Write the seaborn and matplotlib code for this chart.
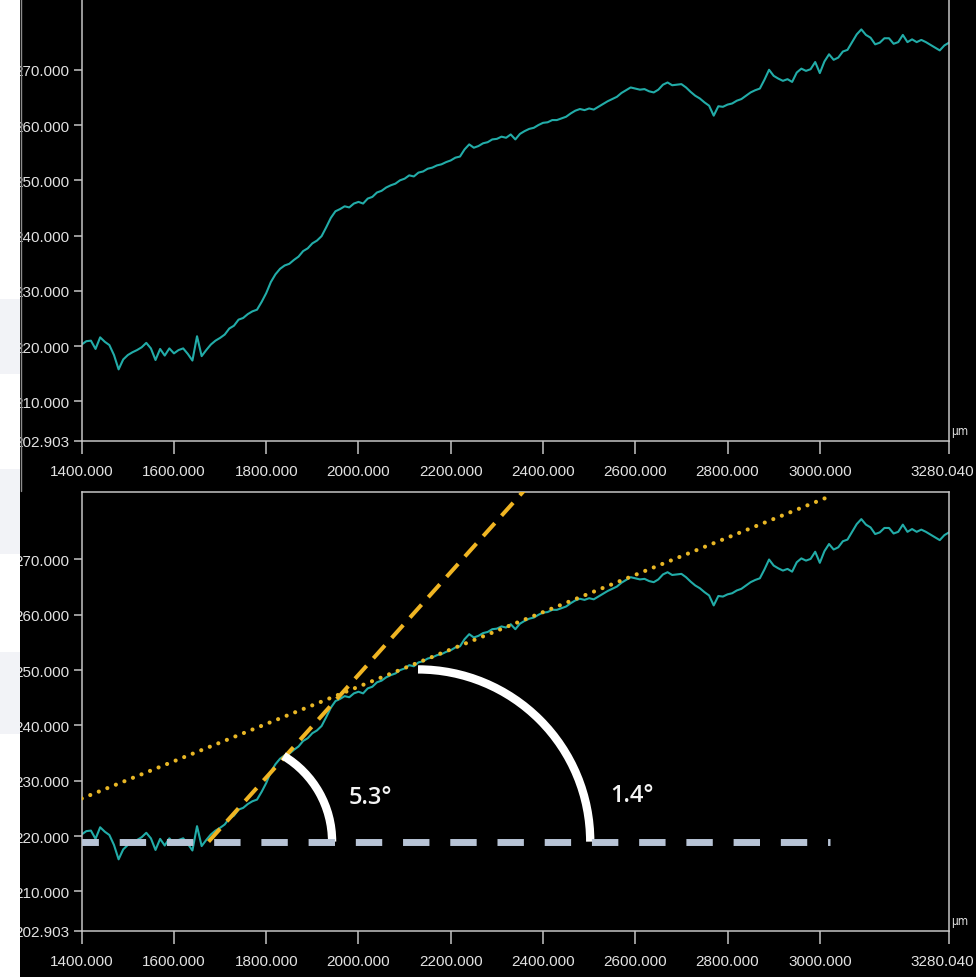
import numpy as np
import pandas as pd
import matplotlib
matplotlib.use("Agg")
import matplotlib.pyplot as plt
import matplotlib.transforms as mtransforms
from matplotlib.patches import Arc, Rectangle
from matplotlib.lines import Line2D
import seaborn as sns

# ---- surface profile (position in µm, height) ----
position = np.arange(1400, 3281, 10)
height = [
    220.3, 220.9, 221.0, 219.5, 221.6, 220.8, 220.2, 218.4, 215.8, 217.6,  # 1400
    218.4, 218.9, 219.3, 219.8, 220.6, 219.6, 217.5, 219.5, 218.3, 219.6,  # 1500
    218.7, 219.3, 219.6, 218.6, 217.4, 221.8, 218.2, 219.3, 220.3, 221.0,  # 1600
    221.5, 222.1, 223.2, 223.7, 224.8, 225.1, 225.8, 226.3, 226.6, 228.0,  # 1700
    229.6, 231.6, 233.0, 234.0, 234.6, 234.9, 235.6, 236.2, 237.2, 237.7,  # 1800
    238.6, 239.1, 239.9, 241.5, 243.2, 244.4, 244.8, 245.3, 245.1, 245.8,  # 1900
    246.1, 245.8, 246.7, 247.0, 247.8, 248.1, 248.7, 249.1, 249.4, 250.0,  # 2000
    250.3, 250.9, 250.7, 251.4, 251.6, 252.1, 252.3, 252.7, 252.9, 253.3,  # 2100
    253.6, 254.1, 254.3, 255.6, 256.5, 255.9, 256.2, 256.7, 256.9, 257.4,  # 2200
    257.5, 257.9, 257.7, 258.3, 257.4, 258.4, 258.9, 259.3, 259.5, 260.0,  # 2300
    260.4, 260.5, 260.9, 260.9, 261.2, 261.5, 262.1, 262.6, 262.9, 262.7,  # 2400
    263.0, 262.8, 263.3, 263.8, 264.3, 264.7, 265.1, 265.8, 266.3, 266.8,  # 2500
    266.6, 266.4, 266.5, 266.1, 265.9, 266.4, 267.3, 267.7, 267.2, 267.3,  # 2600
    267.4, 266.8, 266.0, 265.3, 264.8, 264.1, 263.5, 261.7, 263.4, 263.3,  # 2700
    263.7, 263.9, 264.4, 264.7, 265.3, 265.9, 266.3, 266.6, 268.2, 270.0,  # 2800
    268.9, 268.4, 268.0, 268.3, 267.8, 269.5, 270.2, 269.8, 270.1, 271.4,  # 2900
    269.4, 271.5, 272.8, 271.8, 272.2, 273.3, 273.6, 275.0, 276.4, 277.3,  # 3000
    276.3, 275.8, 274.6, 274.9, 275.7, 275.7, 274.7, 275.0, 276.3, 275.0,  # 3100
    275.5, 275.0, 275.4, 275.0, 274.5, 274.0, 273.5, 274.4, 274.9,         # 3200
]

# ---- axis ticks ----
x_ticks = [1400.0, 1600.0, 1800.0, 2000.0, 2200.0, 2400.0, 2600.0, 2800.0, 3000.0, 3280.04]
y_ticks = [202.903, 210.0, 220.0, 230.0, 240.0, 250.0, 260.0, 270.0]
x_range = (1400.0, 3280.04)
unit_label = "μm"

# ---- construction lines on the lower profile ----
base_level = 219.0
base_span = (1380.0, 3022.0)
steep_angle_deg = 5.3
steep_anchor = (1959.0, 245.35)
steep_span = (1675.0, 2420.0)
gentle_start = (1400.0, 226.8)
gentle_end = (3015.0, 281.2)
angle_labels = ["5.3°", "1.4°"]
label_positions = [(2025.0, 227.1), (2592.0, 227.4)]
arc_centers = [(1726.0, 219.0), (2129.0, 219.0)]
arc_radii_pt = [72.0, 124.0]
arc_sweeps = [(0.0, 59.0), (0.0, 90.0)]

df = pd.DataFrame({"position": position, "height": height})

sns.set_theme(style="dark", rc={
    "axes.facecolor": "black",
    "figure.facecolor": "black",
    "axes.edgecolor": "#c4c4c4",
    "axes.linewidth": 1.1,
    "axes.grid": False,
    "xtick.color": "#c4c4c4",
    "ytick.color": "#c4c4c4",
    "xtick.bottom": True,
    "ytick.left": True,
})
plt.rcParams["font.family"] = ["Liberation Sans Narrow", "Liberation Sans", "DejaVu Sans"]
plt.rcParams["font.stretch"] = "condensed"

W, H = 976, 978
fig = plt.figure(figsize=(W / 100, H / 100), dpi=100)

left = 81.7 / W
width = (949.0 - 81.7) / W
ax_top = fig.add_axes([left, 1 - 441.7 / H, width, 441.7 / H])
ax_bot = fig.add_axes([left, 1 - 931.7 / H, width, (931.7 - 493.0) / H])

line_color = "#22aca8"

def style_axes(ax, ytop, show_top):
    sns.lineplot(data=df, x="position", y="height", ax=ax, color=line_color,
                 linewidth=1.5, zorder=2)
    ax.set_xlim(*x_range)
    ax.set_ylim(202.903, ytop)
    ax.set_xticks(x_ticks)
    ax.set_yticks(y_ticks)
    ax.set_xticklabels([f"{v:.3f}" for v in x_ticks])
    ax.set_yticklabels([f"{v:.3f}" for v in y_ticks])
    ax.set_xlabel("")
    ax.set_ylabel("")
    ax.tick_params(axis="x", direction="out", length=9, width=1.1, pad=8,
                   labelsize=11, labelcolor="#e2e2e2")
    ax.tick_params(axis="y", direction="out", length=6, width=1.1, pad=3,
                   labelsize=11, labelcolor="#e2e2e2")
    # keep the end label inside the frame
    last = ax.get_xticklabels()[-1]
    last.set_transform(last.get_transform() +
                       mtransforms.ScaledTranslation(-5 / 72, 0, fig.dpi_scale_trans))
    for side in ["left", "right", "bottom", "top"]:
        ax.spines[side].set_color("#c4c4c4")
        ax.spines[side].set_linewidth(1.1)
    ax.spines["top"].set_visible(show_top)
    ax.text(1.003, 0.024, unit_label, transform=ax.transAxes, ha="left",
            va="center", fontsize=8.5, color="#e2e2e2",
            family=["DejaVu Sans"], stretch="condensed")

style_axes(ax_top, 282.8, False)
style_axes(ax_bot, 282.2, True)

# horizontal reference level
ax_bot.plot(base_span, [base_level, base_level], color="#b8c4d6",
            linewidth=5.0, linestyle=(0, (3.8, 3.0)), solid_capstyle="butt",
            dash_capstyle="butt", zorder=4)

# steep tangent built from its stated angle
slope = np.tan(np.radians(steep_angle_deg))
sx = np.array(steep_span)
sy = steep_anchor[1] + slope * (sx - steep_anchor[0])
ax_bot.plot(sx, sy, color="#f0b522", linewidth=2.9,
            linestyle=(0, (4.3, 2.5)), dash_capstyle="butt", zorder=3)

# gentle tangent (dotted)
ax_bot.plot([gentle_start[0], gentle_end[0]], [gentle_start[1], gentle_end[1]],
            color="#e8b625", linewidth=3.0, linestyle=(0, (0.01, 2.2)),
            dash_capstyle="round", zorder=3)

# angle arcs and labels
scale = mtransforms.Affine2D().scale(fig.dpi / 72.0)
for (cx, cy), r, (t1, t2) in zip(arc_centers, arc_radii_pt, arc_sweeps):
    tr = scale + mtransforms.ScaledTranslation(cx, cy, ax_bot.transData)
    arc = Arc((0, 0), 2 * r, 2 * r, theta1=t1, theta2=t2, color="white",
              linewidth=6.0, transform=tr, zorder=3.5, capstyle="butt")
    ax_bot.add_patch(arc)

for txt, (tx, ty) in zip(angle_labels, label_positions):
    ax_bot.text(tx, ty, txt, color="#f4f4f4", fontsize=17, ha="center",
                va="center", family=["Open Sans", "DejaVu Sans"],
                weight="semibold", stretch="normal", zorder=5)

# light window margin on the left
bands = [(0, 300, "white"), (300, 375, "#f2f3f7"), (375, 470, "white"),
         (470, 555, "#f2f3f7"), (555, 653, "white"), (653, 735, "#f2f3f7"),
         (735, 978, "white")]
for y0, y1, c in bands:
    fig.add_artist(Rectangle((0, 1 - y1 / H), 20 / W, (y1 - y0) / H,
                             transform=fig.transFigure, facecolor=c,
                             edgecolor="none", zorder=10))
fig.add_artist(Line2D([21 / W, 21 / W], [1, 1 - 492 / H], transform=fig.transFigure,
                      color="#8c8c8c", linewidth=1.0, zorder=10))

fig.savefig("out.png", dpi=100, facecolor="black")
